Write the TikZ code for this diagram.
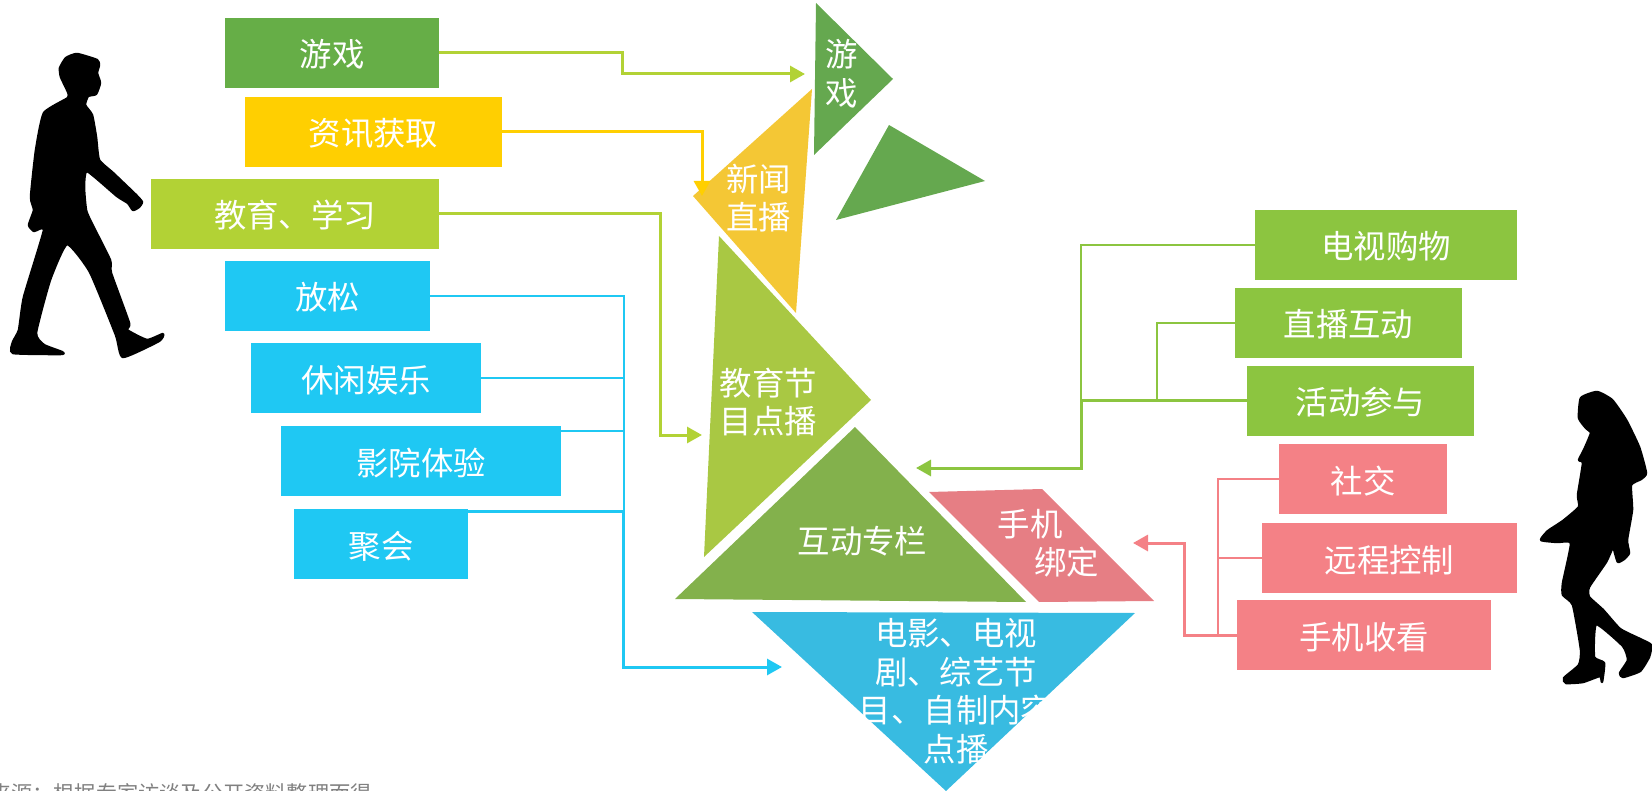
\documentclass[tikz,border=0pt]{standalone}
\usepackage{fontspec}
\setmainfont{Noto Sans CJK SC}
\usepackage{tikz}
\usetikzlibrary{calc}
\usetikzlibrary{arrows.meta}

\definecolor{gamegreen}{HTML}{66AE47}
\definecolor{gametri}{HTML}{65A84F}
\definecolor{newsyellow}{HTML}{FFCF01}
\definecolor{newstri}{HTML}{F4C735}
\definecolor{edulime}{HTML}{B2D235}
\definecolor{edutri}{HTML}{A9C843}
\definecolor{relaxblue}{HTML}{1FC8F3}
\definecolor{vodtri}{HTML}{38BBE1}
\definecolor{shopgreen}{HTML}{8CC540}
\definecolor{inttri}{HTML}{83B14C}
\definecolor{phonepink}{HTML}{F48186}
\definecolor{bindtri}{HTML}{E67E84}

\tikzset{
  tagbox/.style = {inner sep = 0pt, minimum height = 70pt, text = white, text height = 28pt, text depth = 0pt, font = \fontsize{32.4pt}{39pt}\selectfont},
  tritext/.style = {inner sep = 0pt, text = white, align = center, font = \fontsize{32.4pt}{38.5pt}\selectfont},
  link/.style = {line width = 2.2pt},
  tolink/.style = {line width = 3pt, -{Triangle[length = 15pt, width = 16pt]}},
  person/.style = {fill = black, draw = black, line width = 2.5pt, line join = round}
}

\begin{document}
\begin{tikzpicture}[x = 1pt, y = -1pt]
\useasboundingbox (0,0) rectangle (1652,791);

% people
\draw[person] plot[smooth cycle, tension = 0.3] coordinates {(77,54) (97,60) (99,65) (97,73) (100,83) (96,94) (88,96) (85,105) (92,115) (96,137) (99,160) (113,173) (136,195) (142,202) (139,207) (133,210) (128,203) (117,196) (87,171) (84,187) (86,210) (91,222) (110,260) (111,273) (129,323) (127,330) (147,340) (163,334) (159,341) (123,357) (116,335) (90,272) (67,244) (50,280) (36,333) (44,345) (62,352) (61,354) (13,353) (13,342) (19,330) (24,297) (44,230) (34,231) (29,225) (34,210) (31,197) (36,150) (44,113) (68,98) (68,92) (61,77) (60,68) (66,58)};
\draw[person] plot[smooth cycle, tension = 0.3] coordinates {(1597,392) (1612,400) (1626,420) (1639,447) (1646,473) (1641,479) (1631,485) (1632,510) (1627,540) (1629,553) (1624,559) (1618,562) (1615,553) (1613,547) (1606,562) (1589,587) (1589,597) (1603,610) (1620,629) (1640,639) (1651,645) (1649,657) (1640,671) (1623,677) (1620,673) (1628,660) (1623,646) (1596,624) (1594,657) (1604,663) (1602,682) (1600,676) (1583,682) (1566,683) (1564,678) (1579,665) (1581,650) (1573,605) (1563,595) (1563,583) (1571,543) (1557,542) (1541,540) (1548,531) (1563,521) (1579,507) (1578,495) (1583,463) (1579,460) (1584,450) (1591,433) (1586,428) (1579,418) (1581,398)};

% needs on the left
\draw (332,53) node[name = game, tagbox, fill = gamegreen, minimum width = 214pt]{游戏};
\draw (373.5,132) node[name = info, tagbox, fill = newsyellow, minimum width = 257pt]{资讯获取};
\draw (295,214) node[name = edu, tagbox, fill = edulime, minimum width = 288pt]{教育、学习};
\draw (327.5,296) node[name = relax, tagbox, fill = relaxblue, minimum width = 205pt]{放松};
\draw (366,378) node[name = leisure, tagbox, fill = relaxblue, minimum width = 230pt]{休闲娱乐};
\draw (421,461) node[name = cinema, tagbox, fill = relaxblue, minimum width = 280pt]{影院体验};
\draw (381,544) node[name = party, tagbox, fill = relaxblue, minimum width = 174pt]{聚会};

% needs on the right
\draw (1386,245) node[name = shop, tagbox, fill = shopgreen, minimum width = 262pt]{电视购物};
\draw (1348.5,323) node[name = live, tagbox, fill = shopgreen, minimum width = 227pt]{直播互动};
\draw (1360.5,401) node[name = act, tagbox, fill = shopgreen, minimum width = 227pt]{活动参与};
\draw (1363,479) node[name = social, tagbox, fill = phonepink, minimum width = 168pt]{社交};
\draw (1389.5,558) node[name = remote, tagbox, fill = phonepink, minimum width = 255pt]{远程控制};
\draw (1364,635) node[name = phone, tagbox, fill = phonepink, minimum width = 254pt]{手机收看};

% the pieces in the middle
\fill[gametri] (816,3) -- (893,79) -- (814,155) -- cycle;
\fill[gametri] (889,125) -- (985,181) -- (836,220) -- cycle;
\fill[newstri] (812,89) -- (693,196) -- (796,313) -- cycle;
\fill[edutri] (719,236) -- (871,400) -- (704,557) -- cycle;
\fill[inttri] (855,427) -- (1026,602) -- (675,599) -- cycle;
\fill[bindtri] (929,492) -- (1042,489) -- (1154,601) -- (1039,602) -- cycle;
\fill[vodtri] (752,612) -- (1135,613) -- (946,791) -- cycle;

\draw (841.5,74) node[name = gamelabel, tritext]{游\\戏};
\draw (758.5,198) node[name = newslabel, tritext]{新闻\\直播};
\draw (768.5,402) node[name = edulabel, tritext]{教育节\\目点播};
\draw (862.5,541.5) node[name = intlabel, tritext]{互动专栏};
\draw (997.5,543) node[name = bindlabel, tritext, align = left, anchor = west]{手机\\\hspace{36.5pt}绑定};
\draw (956,691) node[name = vodlabel, tritext]{电影、电视\\剧、综艺节\\目、自制内容\\点播};

\draw (372,793) node[name = source, anchor = east, inner sep = 0pt, text = black!50, font = \fontsize{21.2pt}{24pt}\selectfont]{资料来源：根据专家访谈及公开资料整理而得};

\coordinate (gamein) at (805,74);
\coordinate (newsin) at (702,196);
\coordinate (eduin) at (702,435);
\coordinate (vodin) at (782,667);
\coordinate (intin) at (916,468);
\coordinate (bindin) at (1133,543);
\coordinate (bluejoin) at (624,544);
\coordinate (shopjoin) at (1081,401);
\coordinate (greenjoin) at (1157,401);
\coordinate (pinkjoin) at (1218,635);
\coordinate (cinemaout) at ($(cinema.north east) + (0,5)$);
\coordinate (partyout) at ($(party.north east) + (0,3)$);

\draw[tolink, color = edulime] (game.east) -- ++(183,0) |- (gamein);
\draw[tolink, color = newsyellow] (info.east) -| (newsin);
\draw[tolink, color = edulime] (edu.east) -- ++(221,0) |- (eduin);

\draw[link, color = relaxblue] (relax.east) -| (bluejoin);
\draw[link, color = relaxblue] (leisure.east) -- (leisure.east -| bluejoin);
\draw[link, color = relaxblue] (cinemaout) -- (cinemaout -| bluejoin);
\draw[tolink, color = relaxblue] (partyout) -- ++(155,0) |- (vodin);

\draw[link, color = shopgreen] (shop.west) -| (shopjoin);
\draw[link, color = shopgreen] (live.west) -| (greenjoin);
\draw[tolink, color = shopgreen] (act.west) -- (shopjoin) |- (intin);

\draw[link, color = phonepink] (social.west) -| (pinkjoin);
\draw[link, color = phonepink] (remote.west) -- (remote.west -| pinkjoin);
\draw[tolink, color = phonepink] (phone.west) -- ++(-52,0) |- (bindin);

\end{tikzpicture}
\end{document}
